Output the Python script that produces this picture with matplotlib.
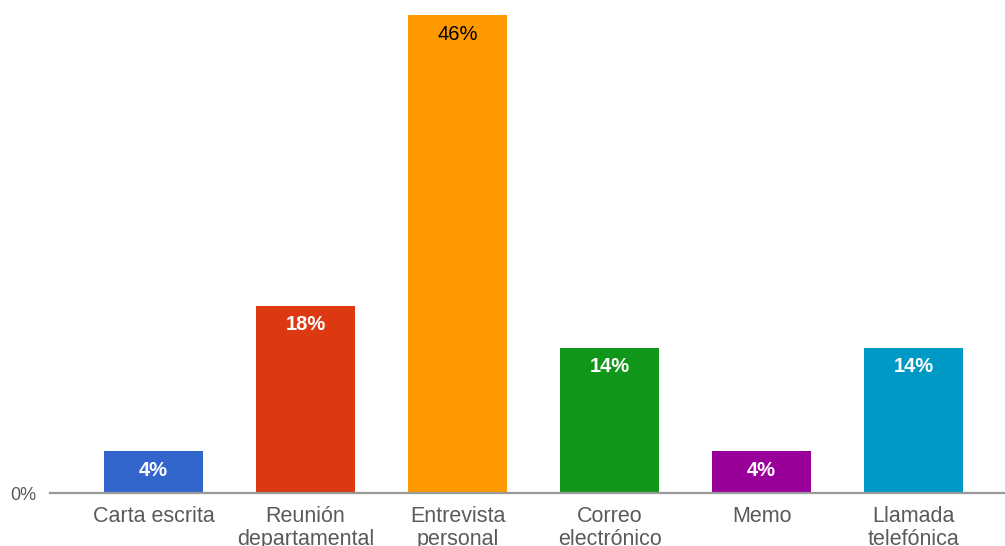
import matplotlib.pyplot as plt

categories = ["Carta escrita", "Reunión\ndepartamental", "Entrevista\npersonal",
              "Correo\nelectrónico", "Memo", "Llamada\ntelefónica"]
values = [4, 18, 46, 14, 4, 14]
colors = ["#3366cc", "#dc3912", "#ff9900", "#109618", "#990099", "#0099c6"]
label_colors = ["white", "white", "black", "white", "white", "white"]
label_weights = ["bold", "bold", "normal", "bold", "bold", "bold"]

plt.rcParams['font.family'] = ['Liberation Sans', 'DejaVu Sans']

fig = plt.figure(figsize=(10.05, 5.46), dpi=100)
ax = fig.add_axes([50 / 1005, 53 / 546, 955 / 1005, 488 / 546])

x = list(range(len(categories)))
ax.bar(x, values, width=0.65, color=colors, zorder=2)

for xi, v, c, w in zip(x, values, label_colors, label_weights):
    ax.annotate(f"{v}%", (xi, v), xytext=(0, -13.5), textcoords="offset points",
                ha="center", va="center", color=c, fontsize=14.5, fontweight=w)

ax.set_xlim(-0.68, 5.60)
ax.set_ylim(0, 47)

ax.set_xticks(x)
ax.set_xticklabels(categories, fontsize=15.5, color="#5a5a5a", linespacing=1.12)
ax.tick_params(axis="x", length=0, pad=9.5)
ax.set_yticks([0])
ax.set_yticklabels(["0%"], fontsize=13, color="#5a5a5a")
ax.tick_params(axis="y", length=0, pad=10)

for side in ["top", "right", "left"]:
    ax.spines[side].set_visible(False)
ax.spines["bottom"].set_color("#999999")
ax.spines["bottom"].set_linewidth(1.6)
ax.spines["bottom"].set_zorder(3)

fig.savefig("out.png", dpi=100)
